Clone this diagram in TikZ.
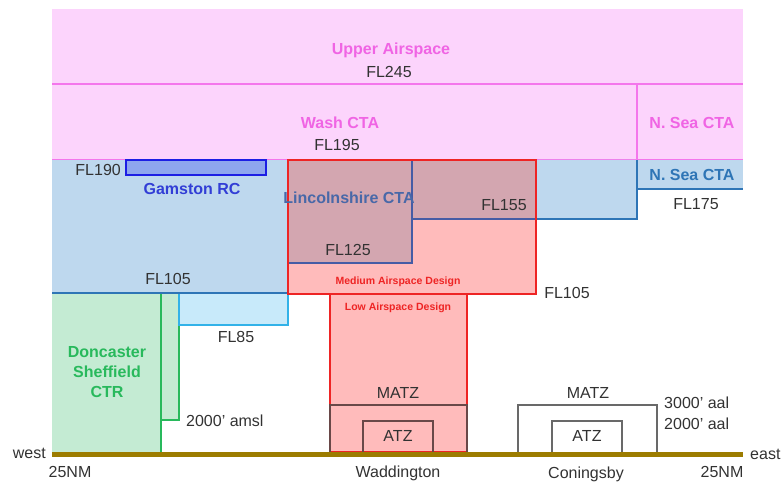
\documentclass[tikz,border=0pt]{standalone}
\usepackage{fontspec}
\setmainfont{Liberation Sans}
\usetikzlibrary{positioning}

\definecolor{pinkfill}{RGB}{252,212,252}
\definecolor{pinkline}{RGB}{244,118,236}
\definecolor{pinktext}{RGB}{240,100,228}
\definecolor{bluefill}{RGB}{190,216,238}
\definecolor{blueline}{RGB}{46,117,182}
\definecolor{lincline}{RGB}{70,92,165}
\definecolor{linctext}{RGB}{72,104,168}
\definecolor{mauvefill}{RGB}{211,166,176}
\definecolor{redfill}{RGB}{255,187,187}
\definecolor{redline}{RGB}{238,36,36}
\definecolor{greenfill}{RGB}{196,235,211}
\definecolor{greenline}{RGB}{40,185,92}
\definecolor{cyanfill}{RGB}{200,234,250}
\definecolor{cyanline}{RGB}{50,178,232}
\definecolor{gamfill}{RGB}{142,166,238}
\definecolor{gamline}{RGB}{28,30,228}
\definecolor{gamtext}{RGB}{50,62,214}
\definecolor{matzline}{RGB}{105,72,72}
\definecolor{greyline}{RGB}{105,105,105}
\definecolor{labgrey}{RGB}{50,50,50}
\definecolor{ground}{RGB}{156,124,0}

\begin{document}
\begin{tikzpicture}[
  x=1pt, y=-1pt,
  lbl/.style={font=\fontsize{16}{19}\selectfont, text=labgrey, inner sep=0pt},
  zone/.style={font=\bfseries\fontsize{16}{20}\selectfont, inner sep=0pt, align=center},
  design/.style={font=\bfseries\fontsize{10.5}{12}\selectfont, text=redline, inner sep=0pt},
  box/.style={line width=2pt},
]
\useasboundingbox (0,0) rectangle (781,486);

% === Upper layers ===
\fill[pinkfill] (52,9) rectangle (743,160);
\draw[pinkline, box] (52,84) -- (743,84);
\draw[pinkline, box] (52,160) -- (743,160);
\draw[pinkline, box] (637,84) -- (637,160);

% === Blue controlled airspace ===
\fill[bluefill] (52,160) rectangle (288,293);
\fill[bluefill] (288,160) -- (637,160) -- (637,219) -- (412,219) -- (412,263) -- (288,263) -- cycle;
\fill[bluefill] (637,160) rectangle (743,189);

% === Medium airspace design, overlap with Lincolnshire CTA ===
\fill[redfill] (288,160) rectangle (536,294);
\fill[mauvefill] (288,160) -- (536,160) -- (536,219) -- (412,219) -- (412,263) -- (288,263) -- cycle;

% === Low level boxes ===
\fill[greenfill] (52,294) rectangle (161,452);
\draw[greenline, box, fill=greenfill] (161,294) -- (161,420) -- (179,420) -- (179,294);
\draw[greenline, box] (161,420) -- (161,452);
\draw[cyanline, box, fill=cyanfill] (179,294) -- (179,325) -- (288,325) -- (288,294);
\draw[redline, box, fill=redfill] (330,294) rectangle (467,452);

% === Outlines ===
\draw[blueline, box] (52,293) -- (288,293);
\draw[blueline, box] (536,219) -- (637,219) -- (637,160);
\draw[blueline, box] (637,189) -- (743,189);
\draw[lincline, box] (412,160) -- (412,263) -- (288,263);
\draw[lincline, box] (412,219) -- (536,219);
\draw[redline, box] (288,160) rectangle (536,294);
\draw[gamline, box, fill=gamfill] (126,160) rectangle (266,175);

% === Aerodrome zones ===
\draw[matzline, box] (330,452) -- (330,405) -- (467,405) -- (467,452);
\draw[matzline, box] (363,452) -- (363,421) -- (433,421) -- (433,452);
\draw[greyline, box] (518,452) -- (518,405) -- (657,405) -- (657,452);
\draw[greyline, box] (552,452) -- (552,421) -- (622,421) -- (622,452);

% === Ground ===
\draw[ground, line width=5pt] (52,454) -- (743,454);

% === Labels ===
\node[zone, text=pinktext] (upper) at (391,50) {Upper Airspace};
\node[lbl] (fl245) at (389,72) {FL245};
\node[zone, text=pinktext] (wash) at (340,123) {Wash CTA};
\node[lbl] (fl195) at (337,145) {FL195};
\node[zone, text=pinktext] (nseahi) at (692,123) {N. Sea CTA};
\node[zone, text=blueline] (nsealo) at (692,175) {N. Sea CTA};
\node[lbl] (fl175) at (696,204) {FL175};
\node[lbl, anchor=east] (fl190) at (121,170) {FL190};
\node[zone, text=gamtext] (gamston) at (192,189) {Gamston RC};
\node[zone, text=linctext] (linc) at (349,198) {Lincolnshire CTA};
\node[lbl] (fl155) at (504,205) {FL155};
\node[lbl] (fl125) at (348,250) {FL125};
\node[lbl] (fl105w) at (168,279) {FL105};
\node[lbl] (fl105e) at (567,293) {FL105};
\node[design] (medium) at (398,282) {Medium Airspace Design};
\node[design] (low) at (398,308) {Low Airspace Design};
\node[lbl] (fl85) at (236,337) {FL85};
\node[zone, text=greenline] (ctr) at (107,372) {Doncaster\\Sheffield\\CTR};
\node[lbl, anchor=west] (amsl) at (186,421) {2000' amsl};
\node[lbl] (matzw) at (398,393) {MATZ};
\node[lbl] (atzw) at (398,436) {ATZ};
\node[lbl] (matzc) at (588,393) {MATZ};
\node[lbl] (atzc) at (587,436) {ATZ};
\node[lbl, anchor=west] (aal3) at (664,403) {3000' aal};
\node[lbl, anchor=west] (aal2) at (664,424) {2000' aal};
\node[lbl, anchor=east] (west) at (46,453) {west};
\node[lbl, anchor=west] (east) at (750,454) {east};
\node[lbl] (nmw) at (70,472) {25NM};
\node[lbl] (nme) at (722,472) {25NM};
\node[lbl] (wadd) at (398,473) {Waddington};
\node[lbl] (coning) at (586,474) {Coningsby};

\end{tikzpicture}
\end{document}
